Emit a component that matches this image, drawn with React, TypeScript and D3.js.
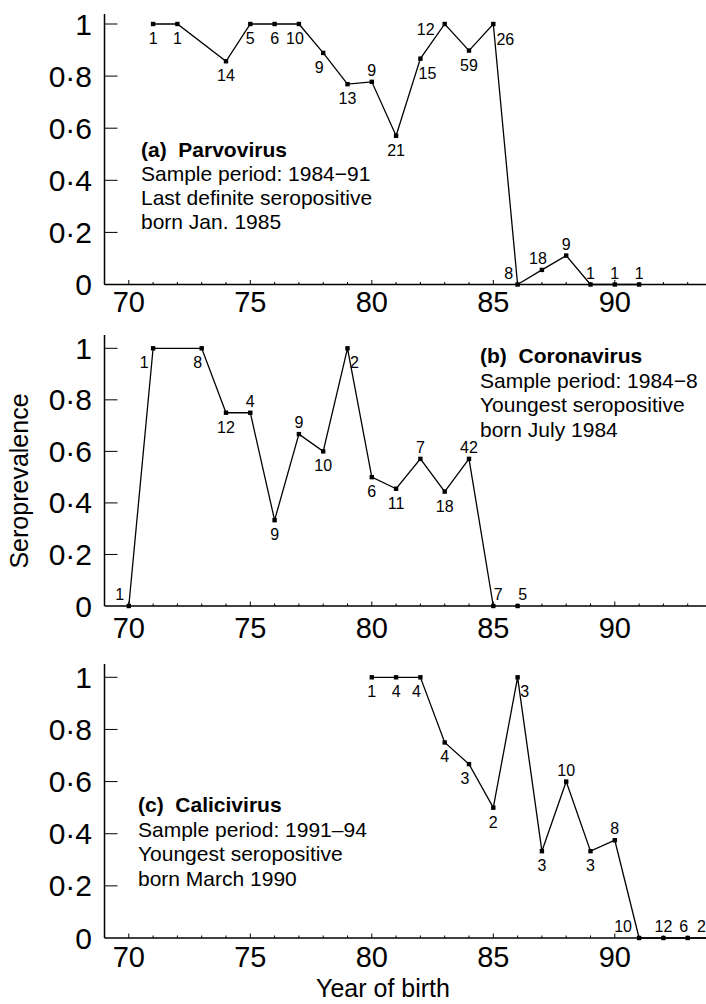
import React from 'react';
import * as d3 from 'd3';

// ---------- data ----------
const yearsA = [71, 72, 74, 75, 76, 77, 78, 79, 80, 81, 82, 83, 84, 85, 86, 87, 88, 89, 90, 91];
const valuesA = [1, 1, 0.857, 1, 1, 1, 0.889, 0.769, 0.778, 0.571, 0.867, 1, 0.898, 1, 0, 0.056, 0.111, 0, 0, 0];
const countsA = [1, 1, 14, 5, 6, 10, 9, 13, 9, 21, 15, 12, 59, 26, 8, 18, 9, 1, 1, 1];
const labelPosA = ['b', 'b', 'b', 'b', 'b', 'b-', 'b-', 'b', 'a', 'b', 'br', 'l', 'b', 'rb', 'al', 'a-', 'a', 'a', 'a', 'a'];
const linesA = [[71, 91]];

const yearsB = [70, 71, 73, 74, 75, 76, 77, 78, 79, 80, 81, 82, 83, 84, 85, 86];
const valuesB = [0, 1, 1, 0.75, 0.75, 0.333, 0.667, 0.6, 1, 0.5, 0.455, 0.571, 0.444, 0.571, 0, 0];
const countsB = [1, 1, 8, 12, 4, 9, 9, 10, 2, 6, 11, 7, 18, 42, 7, 5];
const labelPosB = ['al', 'bl', 'b-', 'b', 'a', 'b', 'a', 'b', 'br', 'b', 'b', 'a', 'b', 'a', 'ar', 'ar'];
const linesB = [[70, 85]];

const yearsC = [80, 81, 82, 83, 84, 85, 86, 87, 88, 89, 90, 91, 92, 93, 94];
const valuesC = [1, 1, 1, 0.75, 0.667, 0.5, 1, 0.333, 0.6, 0.333, 0.375, 0, 0, 0, 0];
const countsC = [1, 4, 4, 4, 3, 2, 3, 3, 10, 3, 8, 10, 12, 6, 2];
const labelPosC = ['b', 'b', 'b-', 'b', 'b-', 'b', 'br', 'b', 'a', 'b', 'a', 'aL', 'a', 'a-', 'aE'];
const linesC = [[80, 94]];

const yTickValues = [1, 0.8, 0.6, 0.4, 0.2, 0];
const yTickLabels = ['1', '0·8', '0·6', '0·4', '0·2', '0'];
const xTickValues = [70, 75, 80, 85, 90];
const xTickLabels = ['70', '75', '80', '85', '90'];

const notesA = ['(a)  Parvovirus', 'Sample period: 1984−91', 'Last definite seropositive', 'born Jan. 1985'];
const notesB = ['(b)  Coronavirus', 'Sample period: 1984−8', 'Youngest seropositive', 'born July 1984'];
const notesC = ['(c)  Calicivirus', 'Sample period: 1991–94', 'Youngest seropositive', 'born March 1990'];

const yLabel = 'Seroprevalence';
const xLabel = 'Year of birth';

// ---------- layout ----------
const W = 706;
const H = 1004;
const FONT = '"Liberation Sans", Arial, Helvetica, sans-serif';

const LABEL_OFF: Record<string, [number, number]> = {
  b: [0, 20],
  'b-': [-4, 20],
  bl: [-9, 20],
  br: [7, 20],
  a: [0, -6],
  'a-': [-4, -6],
  al: [-9, -6],
  aL: [-16, -6],
  ar: [5, -6],
  aE: [-10.5, -6],
  l: [-19, 11],
  rb: [12, 21],
};

const x = d3.scaleLinear().domain([69, 94]).range([104.5, 104.5 + 25 * 24.3]);
const minorYears = d3.range(69, 95);

type PanelProps = {
  years: number[];
  values: number[];
  counts: number[];
  labelPos: string[];
  lines: number[][];
  notes: string[];
  y0: number;
  y1: number;
  axisTop: number;
  xLabelBase: number;
  noteX: number;
  noteY: number;
  noteGap: number;
};

function Panel(p: PanelProps) {
  const y = d3.scaleLinear().domain([0, 1]).range([p.y0, p.y1]);
  const line = d3
    .line<number>()
    .x((i) => x(p.years[i]))
    .y((i) => y(p.values[i]));
  const segments = p.lines.map(([a, b]) =>
    p.years.map((yr, i) => (yr >= a && yr <= b ? i : -1)).filter((i) => i >= 0)
  );
  const x0 = x(69);
  return (
    <g>
      {/* axes */}
      <line x1={x0} x2={x0} y1={p.axisTop} y2={p.y0} stroke="#000" strokeWidth={1.5} />
      <line x1={x0} x2={W + 10} y1={p.y0} y2={p.y0} stroke="#000" strokeWidth={1.5} />
      {yTickValues.map((v, i) => (
        <g key={'yt' + i}>
          {v > 0 && <line x1={x0} x2={x0 + 13} y1={y(v)} y2={y(v)} stroke="#000" strokeWidth={1} />}
          <text
            x={92}
            y={y(v) + 10.5}
            textAnchor="end"
            fontSize={30}
            fontFamily={FONT}
            fill="#000"
          >
            {yTickLabels[i]}
          </text>
        </g>
      ))}
      {minorYears.map((yr) => (
        <line
          key={'xt' + yr}
          x1={x(yr)}
          x2={x(yr)}
          y1={p.y0}
          y2={p.y0 - (yr % 5 === 0 ? 4.5 : 2.5)}
          stroke="#000"
          strokeWidth={1}
        />
      ))}
      {xTickValues.map((v, i) => (
        <text
          key={'xl' + i}
          x={x(v)}
          y={p.xLabelBase}
          textAnchor="middle"
          fontSize={29}
          fontFamily={FONT}
          fill="#000"
        >
          {xTickLabels[i]}
        </text>
      ))}
      {/* series */}
      {segments.map((seg, k) => (
        <path key={'ln' + k} d={line(seg) || ''} fill="none" stroke="#000" strokeWidth={1.3} />
      ))}
      {p.years.map((yr, i) => (
        <rect
          key={'pt' + i}
          x={x(yr) - 2.2}
          y={y(p.values[i]) - 2.2}
          width={4.4}
          height={4.4}
          fill="#000"
        />
      ))}
      {p.years.map((yr, i) => {
        const off = LABEL_OFF[p.labelPos[i]];
        return (
          <text
            key={'lb' + i}
            x={x(yr) + off[0]}
            y={y(p.values[i]) + off[1]}
            textAnchor="middle"
            fontSize={16}
            fontFamily={FONT}
            fill="#000"
          >
            {p.counts[i]}
          </text>
        );
      })}
      {/* annotation */}
      {p.notes.map((t, i) => (
        <text
          key={'nt' + i}
          x={p.noteX}
          y={p.noteY + i * p.noteGap}
          fontSize={21}
          fontWeight={i === 0 ? 'bold' : 'normal'}
          fontFamily={FONT}
          fill="#000"
          style={{ whiteSpace: 'pre' }}
        >
          {t}
        </text>
      ))}
    </g>
  );
}

export default function App() {
  return (
    <svg
      width={W}
      height={H}
      viewBox={`0 0 ${W} ${H}`}
      style={{ position: 'absolute', left: 0, top: 0, background: '#fff' }}
    >
      <rect x={0} y={0} width={W} height={H} fill="#fff" />
      <Panel
        years={yearsA}
        values={valuesA}
        counts={countsA}
        labelPos={labelPosA}
        lines={linesA}
        notes={notesA}
        y0={284.5}
        y1={24}
        axisTop={14}
        xLabelBase={312}
        noteX={141}
        noteY={157}
        noteGap={24}
      />
      <Panel
        years={yearsB}
        values={valuesB}
        counts={countsB}
        labelPos={labelPosB}
        lines={linesB}
        notes={notesB}
        y0={606}
        y1={348.3}
        axisTop={335}
        xLabelBase={638}
        noteX={480}
        noteY={363}
        noteGap={24.5}
      />
      <Panel
        years={yearsC}
        values={valuesC}
        counts={countsC}
        labelPos={labelPosC}
        lines={linesC}
        notes={notesC}
        y0={938}
        y1={677.3}
        axisTop={664}
        xLabelBase={967}
        noteX={138}
        noteY={812}
        noteGap={24.7}
      />
      <text
        transform="translate(28,481) rotate(-90)"
        textAnchor="middle"
        fontSize={25}
        fontFamily={FONT}
        fill="#000"
      >
        {yLabel}
      </text>
      <text x={383} y={997} textAnchor="middle" fontSize={25} fontFamily={FONT} fill="#000">
        {xLabel}
      </text>
    </svg>
  );
}
